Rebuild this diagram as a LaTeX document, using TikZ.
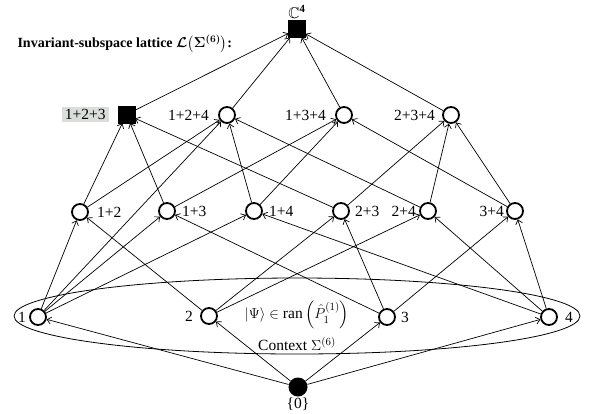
\documentclass[tikz,border=0pt]{standalone}
\usepackage{amsmath,amssymb}
\usepackage{fontspec}
\setmainfont{Liberation Serif}
\usepackage{tikz}
\usetikzlibrary{arrows.meta,positioning}
\definecolor{hlgray}{RGB}{217,222,219}

\begin{document}
\begin{tikzpicture}[x=1pt, y=-1pt,
		every node/.style={font=\fontsize{15.5}{17}\selectfont},
		sub/.style={draw, circle, line width=1.8pt, minimum size=16pt, inner sep=0pt},
		full/.style={draw, fill=black, minimum size=17pt, inner sep=0pt},
		zero/.style={circle, fill=black, minimum size=19pt, inner sep=0pt},
		lab/.style={inner sep=1pt},
		arrow/.style={-{Straight Barb[length=4pt,width=7pt]}, line width=0.7pt}
	]
		\useasboundingbox (0,0) rectangle (596,413);

		% context ellipse
		\draw[line width=0.8pt] (297,316) ellipse [x radius=283pt, y radius=38pt];

		\node[anchor=west, font=\fontsize{14}{16}\selectfont\bfseries] (title) at (14,44)
			{Invariant-subspace lattice {\boldmath$\mathcal{L}\bigl(\Sigma^{(6)}\bigr)$}:};

		% top and triples
		\node[full] (top) at (297,29) {};
		\node[full] (t123) at (126.5,114.5) {};
		\node[sub] (t124) at (227,115) {};
		\node[sub] (t134) at (344,115) {};
		\node[sub] (t234) at (451,115) {};
		% pairs
		\node[sub] (p12) at (80,212) {};
		\node[sub] (p13) at (167,211) {};
		\node[sub] (p14) at (254,211) {};
		\node[sub] (p23) at (341,211) {};
		\node[sub] (p24) at (428,211) {};
		\node[sub] (p34) at (515,211) {};
		% singletons
		\node[sub] (s1) at (38,317) {};
		\node[sub] (s2) at (209,316) {};
		\node[sub] (s3) at (387,317) {};
		\node[sub] (s4) at (549,317) {};
		\node[zero] (zero) at (298,387) {};

		% labels
		\node[lab, above=1pt of top] (ltop) {$\mathbb{C}^{\mathbf{4}}$};
		\node[lab, left=9pt of t123, fill=hlgray, inner xsep=3pt, inner ysep=2pt] (l123) {1+2+3};
		\node[lab, left=8pt of t124] (l124) {1+2+4};
		\node[lab, left=8pt of t134] (l134) {1+3+4};
		\node[lab, left=6pt of t234] (l234) {2+3+4};
		\node[lab, right=7pt of p12] (l12) {1+2};
		\node[lab, right=5pt of p13] (l13) {1+3};
		\node[lab, right=5pt of p14] (l14) {1+4};
		\node[lab, right=4pt of p23] (l23) {2+3};
		\node[lab, left=2pt of p24] (l24) {2+4};
		\node[lab, left=1pt of p34] (l34) {3+4};
		\node[lab, left=2pt of s1] (l1) {1};
		\node[lab, left=6pt of s2] (l2) {2};
		\node[lab, right=4pt of s3] (l3) {3};
		\node[lab, right=6pt of s4] (l4) {4};
		\node[lab, below=0pt of zero] (l0) {\{0\}};
		\node[inner sep=1pt] (psi) at (297,315) {$|\Psi\rangle \in \mathrm{ran}\left(\hat{P}_1^{(1)}\right)$};
		\node[inner sep=1pt] (lctx) at (297,344) {Context $\Sigma^{(6)}$};

		\draw[arrow] (zero) -- (s1);
		\draw[arrow] (zero) -- (s2);
		\draw[arrow] (zero) -- (s3);
		\draw[arrow] (zero) -- (s4);

		\draw[arrow] (s1) -- (p12);
		\draw[arrow] (s1) -- (p13);
		\draw[arrow] (s1) -- (p14);
		\draw[arrow] (s1) -- (t124);
		\draw[arrow] (s2) -- (p12);
		\draw[arrow] (s2) -- (p23);
		\draw[arrow] (s2) -- (p24);
		\draw[arrow] (s3) -- (p13);
		\draw[arrow] (s3) -- (p23);
		\draw[arrow] (s3) -- (p34);
		\draw[arrow] (s4) -- (p14);
		\draw[arrow] (s4) -- (p24);
		\draw[arrow] (s4) -- (p34);

		\draw[arrow] (p12) -- (t123);
		\draw[arrow] (p12) -- (t124);
		\draw[arrow] (p13) -- (t123);
		\draw[arrow] (p13) -- (t134);
		\draw[arrow] (p14) -- (t124);
		\draw[arrow] (p14) -- (t134);
		\draw[arrow] (p23) -- (t123);
		\draw[arrow] (p23) -- (t234);
		\draw[arrow] (p24) -- (t124);
		\draw[arrow] (p24) -- (t234);
		\draw[arrow] (p34) -- (t134);
		\draw[arrow] (p34) -- (t234);

		\draw[arrow] (t123) -- (top);
		\draw[arrow] (t124) -- (top);
		\draw[arrow] (t134) -- (top);
		\draw[arrow] (t234) -- (top);
	\end{tikzpicture}
\end{document}
